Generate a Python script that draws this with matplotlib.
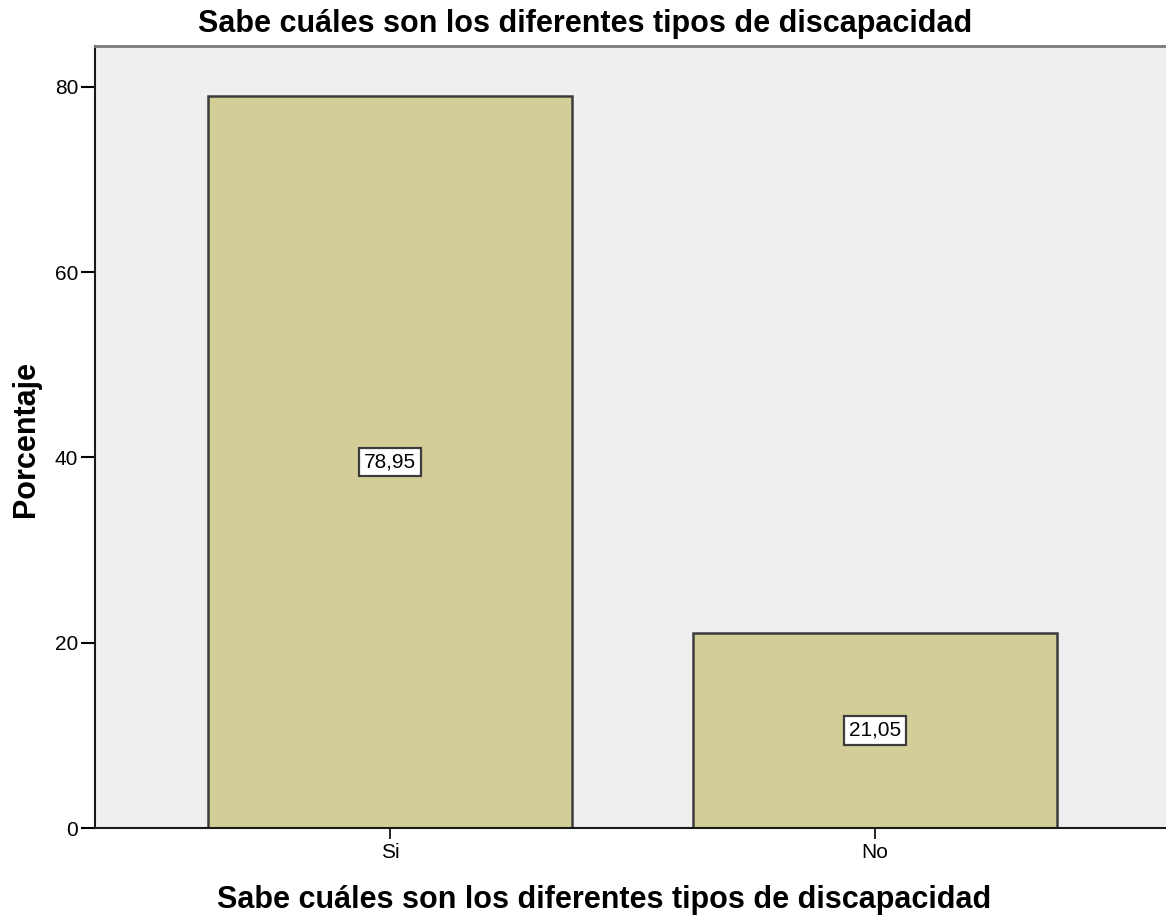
import matplotlib.pyplot as plt
import numpy as np

plt.rcParams["font.family"] = ["Liberation Sans", "DejaVu Sans"]

categories = ["Si", "No"]
percentages = [78.95, 21.05]
value_labels = ["78,95", "21,05"]
yticks = [0, 20, 40, 60, 80]

TITLE = "Sabe cuáles son los diferentes tipos de discapacidad"

W, H = 1166, 915
fig = plt.figure(figsize=(W / 100, H / 100), dpi=100)
# plot area in pixels: x 95..1166, y 46..828
ax = fig.add_axes([95 / W, 1 - 828 / H, 1 - 95 / W, (828 - 46) / H])
ax.set_facecolor("#EFEFEF")

x = np.arange(len(categories))
ax.bar(x, percentages, width=0.75, color="#D3CE97", edgecolor="#3C3C3C",
       linewidth=1.8, zorder=2)

# value boxes in the middle of each bar
for xi, val, lab in zip(x, percentages, value_labels):
    ax.text(xi, val / 2, lab, ha="center", va="center", fontsize=15, zorder=3,
            bbox=dict(boxstyle="square,pad=0.22", facecolor="white",
                      edgecolor="#3C3C3C", linewidth=1.6))

ax.set_xlim(-0.608, 1.6)
ax.set_ylim(0, 84.4)
ax.set_xticks(x)
ax.set_xticklabels(categories, fontsize=15)
ax.set_yticks(yticks)
ax.set_yticklabels([str(t) for t in yticks], fontsize=15)
ax.tick_params(axis="y", length=10, width=1.5, direction="out", pad=2)
ax.tick_params(axis="x", length=8, width=1.2, direction="out", pad=3)

for side in ["left", "bottom"]:
    ax.spines[side].set_color("#1A1A1A")
    ax.spines[side].set_linewidth(1.5)
ax.spines["top"].set_color("#7A7A7A")
ax.spines["top"].set_linewidth(2)
ax.spines["right"].set_visible(False)

fig.text(585 / W, 1 - 32 / H, TITLE, ha="center", va="baseline",
         fontsize=22, fontweight="bold")
fig.text(604 / W, 1 - 908 / H, TITLE, ha="center", va="baseline",
         fontsize=22, fontweight="bold")
fig.text(34 / W, 1 - 439 / H, "Porcentaje", ha="center", va="baseline",
         rotation=90, rotation_mode="anchor", fontsize=22, fontweight="bold")

fig.savefig("out.png", dpi=100)
